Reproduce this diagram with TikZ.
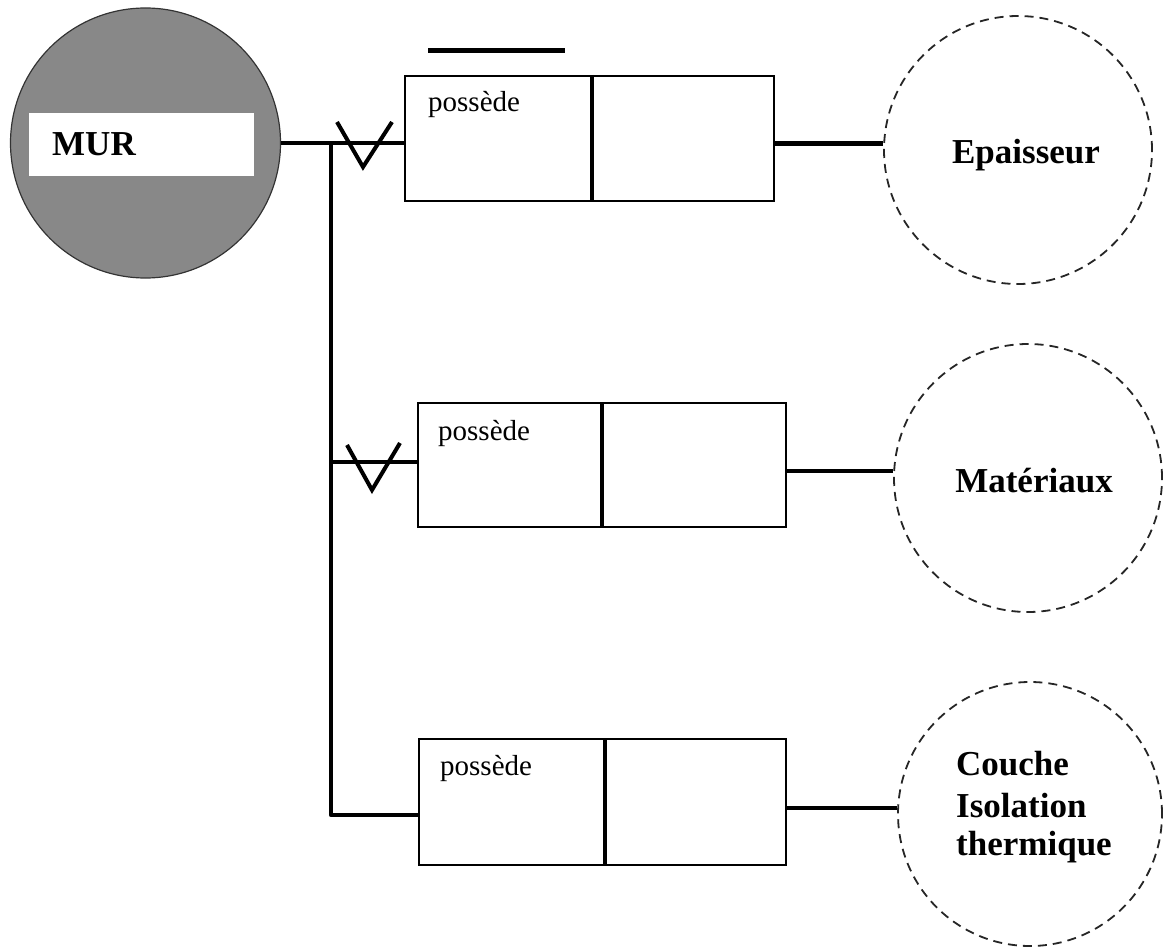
\documentclass[tikz,border=0pt]{standalone}
\usepackage{fontspec}
\setmainfont{Liberation Serif}
\usetikzlibrary{calc}
\definecolor{murgray}{RGB}{136,136,136}
\tikzset{
  entity/.style={circle, draw=black!80, line width=1.2pt, fill=murgray, minimum size=270pt, inner sep=0pt},
  attr/.style={circle, draw=black!85, line width=1.8pt, dash pattern=on 9pt off 6pt, minimum size=#1, inner sep=0pt},
  half/.style={draw, line width=2.4pt, anchor=north west, inner sep=0pt},
  divider/.style={line width=4pt},
  conn/.style={line width=4.5pt},
  vmark/.style={line width=4pt, line join=miter},
  rel/.style={font=\fontsize{29}{34}\selectfont, inner sep=0pt, anchor=base west},
  attrtext/.style={font=\fontsize{35}{40}\selectfont\bfseries, inner sep=0pt},
}
\begin{document}
\begin{tikzpicture}[x=1pt,y=-1pt]
\useasboundingbox (0,0) rectangle (1164,947);

% entity MUR
\node[entity] (mur) at (145.5,143) {};
\node[fill=white, minimum width=225pt, minimum height=63pt, inner sep=0pt, anchor=north west] (murbox) at (29,113) {};
\node[attrtext, anchor=base west] (murtext) at (52,156) {MUR};

% relationship boxes
\node[half, minimum width=186pt, minimum height=125pt] (p1) at (404,75) {};
\node[half, minimum width=183pt, minimum height=125pt] (v1) at (590,75) {};
\node[half, minimum width=183pt, minimum height=124pt] (p2) at (417,402) {};
\node[half, minimum width=185pt, minimum height=124pt] (v2) at (600,402) {};
\node[half, minimum width=185pt, minimum height=126pt] (p3) at (418,738) {};
\node[half, minimum width=182pt, minimum height=126pt] (v3) at (603,738) {};
\draw[divider] (p1.north east) -- (p1.south east);
\draw[divider] (p2.north east) -- (p2.south east);
\draw[divider] (p3.north east) -- (p3.south east);

\node[rel] (t1) at ($(p1.north west)+(24,37)$) {possède};
\node[rel] (t2) at ($(p2.north west)+(21,38)$) {possède};
\node[rel] (t3) at ($(p3.north west)+(22,37)$) {possède};

% bar over the first relationship
\coordinate (bara) at ($(p1.north west)+(24,-24)$);
\coordinate (barb) at ($(p1.north west)+(161,-24)$);
\draw[line width=5pt] (bara) -- (barb);

% attribute circles
\node[attr=268pt] (e1) at (1018,150) {};
\node[attr=268pt] (e2) at (1028,478) {};
\node[attr=264pt] (e3) at (1030,814) {};
\node[attrtext, anchor=base] (e1t) at (1026,163) {Epaisseur};
\node[attrtext, anchor=base] (e2t) at (1034,492) {Matériaux};
\node[attrtext, anchor=base west] (e3a) at (956,775) {Couche};
\node[attrtext, anchor=base west] (e3b) at (956,817) {Isolation};
\node[attrtext, anchor=base west] (e3c) at (956,855) {thermique};

% links from the entity to the relationships
\coordinate (j1) at (331,143);
\coordinate (j2) at (331,462);
\coordinate (j3) at (331,815);
\draw[conn] (mur.east) -- (j1) -- (j1 -| p1.west);
\draw[conn, line join=round] (j1) -- (j3) -- (j3 -| p3.west);
\draw[conn] (j2) -- (j2 -| p2.west);

% cardinality marks
\draw[vmark] ($(j1)+(6,-21)$) -- ($(j1)+(32,24)$) -- ($(j1)+(61,-21)$);
\draw[vmark] ($(j2)+(16,-17)$) -- ($(j2)+(41,28)$) -- ($(j2)+(69,-19)$);

% links from the relationships to the attributes
\draw[conn] ([yshift=-5pt]v1.east) -- ([yshift=-5pt]v1.east -| e1.west);
\draw[conn] ([yshift=-6pt]v2.east) -- ([yshift=-6pt]v2.east -| e2.west);
\draw[conn] ([yshift=-6pt]v3.east) -- ([yshift=-6pt]v3.east -| e3.west);
\end{tikzpicture}
\end{document}
